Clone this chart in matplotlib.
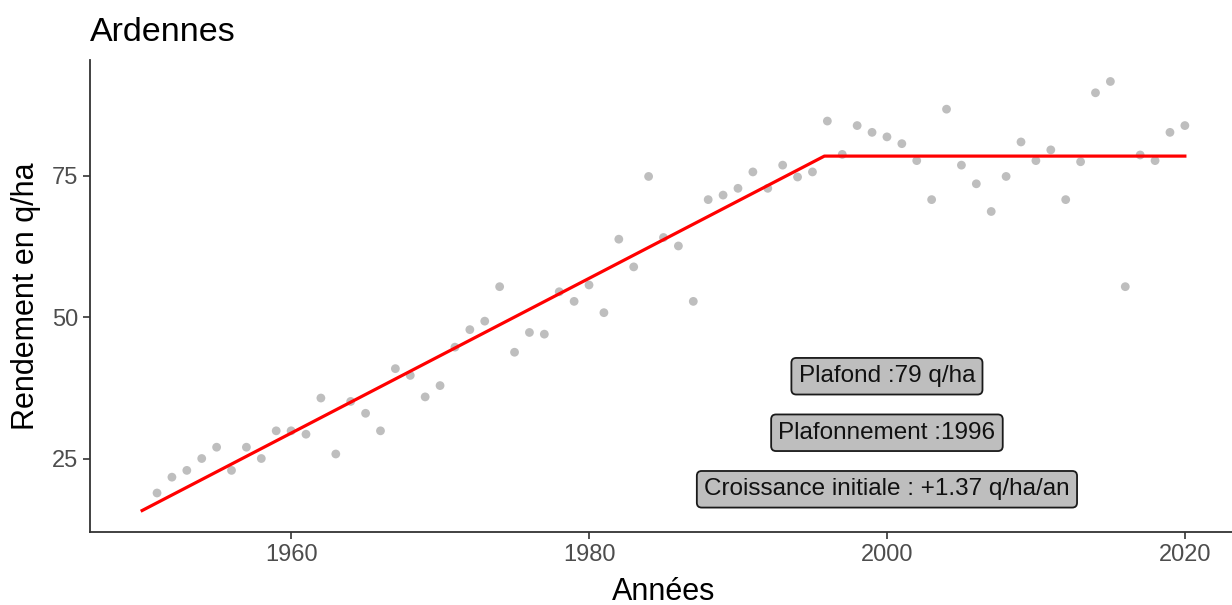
import matplotlib
matplotlib.use("Agg")
import matplotlib.pyplot as plt

plt.rcParams['font.family'] = ['Liberation Sans', 'DejaVu Sans']

title = "Ardennes"
xlabel = "Années"
ylabel = "Rendement en q/ha"

years = [1951, 1952, 1953, 1954, 1955, 1956, 1957, 1958, 1959, 1960,
         1961, 1962, 1963, 1964, 1965, 1966, 1967, 1968, 1969, 1970,
         1971, 1972, 1973, 1974, 1975, 1976, 1977, 1978, 1979, 1980,
         1981, 1982, 1983, 1984, 1985, 1986, 1987, 1988, 1989, 1990,
         1991, 1992, 1993, 1994, 1995, 1996, 1997, 1998, 1999, 2000,
         2001, 2002, 2003, 2004, 2005, 2006, 2007, 2008, 2009, 2010,
         2011, 2012, 2013, 2014, 2015, 2016, 2017, 2018, 2019, 2020]
yields = [18.9, 21.7, 22.9, 25.0, 27.0, 22.9, 27.0, 25.0, 29.9, 29.9,
          29.3, 35.7, 25.8, 35.1, 33.0, 29.9, 40.9, 39.7, 35.9, 37.9,
          44.7, 47.8, 49.3, 55.4, 43.8, 47.3, 47.0, 54.5, 52.8, 55.7,
          50.8, 63.8, 58.9, 74.9, 64.1, 62.6, 52.8, 70.8, 71.6, 72.8,
          75.7, 72.8, 76.9, 74.8, 75.7, 84.7, 78.8, 83.9, 82.7, 81.9,
          80.7, 77.7, 70.8, 86.8, 76.9, 73.6, 68.7, 74.9, 81.0, 77.7,
          79.6, 70.8, 77.5, 89.7, 91.7, 55.4, 78.7, 77.7, 82.7, 83.9]

fit_years = [1950, 1995.8, 2020]
fit_values = [15.8, 78.5, 78.5]

label_texts = ["Plafond :79 q/ha", "Plafonnement :1996",
               "Croissance initiale : +1.37 q/ha/an"]
label_x = [2000, 2000, 2000]
label_y = [40, 30, 20]

xticks = [1960, 1980, 2000, 2020]
yticks = [25, 50, 75]

fig = plt.figure(figsize=(12.32, 6.05), dpi=100)
ax = fig.add_axes([90 / 1232, 1 - 532 / 605, (1237 - 90) / 1232, (532 - 60) / 605])

ax.scatter(years, yields, s=40, color='#BEBEBE', edgecolors='none', zorder=2)
ax.plot(fit_years, fit_values, color='#FF0000', lw=2.3, zorder=3)

for t, x, y in zip(label_texts, label_x, label_y):
    ax.text(x, y, t, ha='center', va='center_baseline', fontsize=17.5, color='#111111',
            bbox=dict(boxstyle='round,pad=0.3,rounding_size=0.2',
                      facecolor='#BEBEBE', edgecolor='#1a1a1a', lw=1.3),
            zorder=4)

ax.set_xlim(1946.5, 2023.5)
ax.set_ylim(12.0, 95.5)
ax.set_xticks(xticks)
ax.set_yticks(yticks)
ax.tick_params(axis='both', labelsize=17, labelcolor='#4D4D4D', color='#333333',
               length=5, width=1.2, direction='out')
for s in ['top', 'right']:
    ax.spines[s].set_visible(False)
for s in ['left', 'bottom']:
    ax.spines[s].set_color('#333333')
    ax.spines[s].set_linewidth(1.3)

ax.set_xlabel(xlabel, fontsize=22, labelpad=8)
ax.set_ylabel(ylabel, fontsize=22, labelpad=8)
ax.set_title(title, fontsize=24.5, loc='left', pad=14)

fig.savefig("out.png", dpi=100)
